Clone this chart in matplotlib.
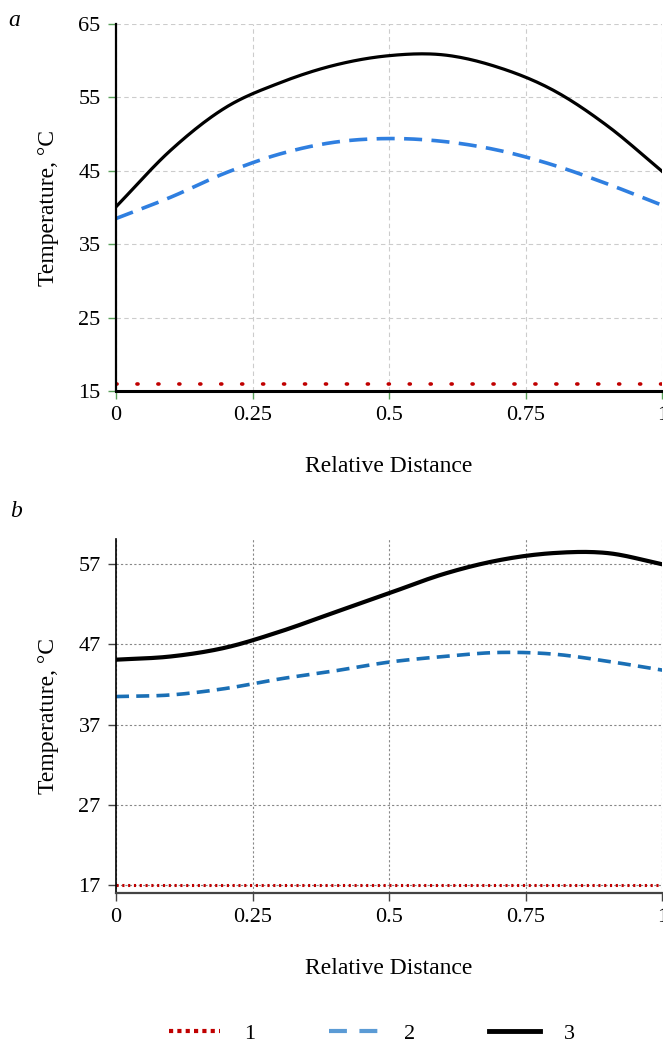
import matplotlib
matplotlib.use("Agg")
import numpy as np
import matplotlib.pyplot as plt
from matplotlib.lines import Line2D

plt.rcParams['font.family'] = ['Liberation Serif', 'DejaVu Serif']

# relative distance positions where the curves were read
xs = [0, 0.1, 0.2, 0.3, 0.4, 0.5, 0.6, 0.7, 0.8, 0.9, 1.0]

# panel a
a_line1 = [16.0] * len(xs)
a_line2 = [38.5, 41.4, 44.7, 47.3, 48.9, 49.4, 49.0, 47.8, 45.8, 43.2, 40.3]
a_line3 = [40.1, 47.8, 53.6, 57.0, 59.4, 60.7, 60.8, 59.1, 56.0, 51.1, 44.9]

# panel b
b_line1 = [17.0] * len(xs)
b_line2 = [40.5, 40.7, 41.5, 42.7, 43.7, 44.8, 45.5, 46.0, 45.8, 44.9, 43.8]
b_line3 = [45.1, 45.5, 46.6, 48.6, 51.0, 53.4, 55.8, 57.5, 58.4, 58.4, 57.0]

xticks = [0, 0.25, 0.5, 0.75, 1]
xticklabels = ['0', '0.25', '0.5', '0.75', '1']
a_yticks = [15, 25, 35, 45, 55, 65]
b_yticks = [17, 27, 37, 47, 57]
legend_labels = ['1', '2', '3']

red = '#c00000'
blue_a = '#2f7fe0'
blue_b = '#1a6fb5'


def smooth(x, y, n=20):
    # Catmull-Rom through the read points (uniform spacing)
    x = np.asarray(x, float)
    y = np.asarray(y, float)
    px = np.concatenate([[2 * x[0] - x[1]], x, [2 * x[-1] - x[-2]]])
    py = np.concatenate([[2 * y[0] - y[1]], y, [2 * y[-1] - y[-2]]])
    t = np.linspace(0, 1, n, endpoint=False)
    ox, oy = [], []
    for i in range(1, len(px) - 2):
        for arr, out in ((px, ox), (py, oy)):
            a0, a1, a2, a3 = arr[i - 1], arr[i], arr[i + 1], arr[i + 2]
            out.extend(0.5 * ((2 * a1) + (-a0 + a2) * t + (2 * a0 - 5 * a1 + 4 * a2 - a3) * t ** 2
                              + (-a0 + 3 * a1 - 3 * a2 + a3) * t ** 3))
    ox.append(x[-1])
    oy.append(y[-1])
    return ox, oy


def style_axes(ax, yticks, ylim, tick_color):
    ax.set_xlim(0, 1)
    ax.set_ylim(*ylim)
    ax.set_yticks(yticks)
    ax.set_xticks(xticks)
    ax.set_xticklabels(xticklabels)
    ax.tick_params(color=tick_color, length=6, width=1, labelsize=16, pad=5)
    ax.set_ylabel('Temperature, °C', fontsize=17, labelpad=14)
    ax.set_xlabel('Relative Distance', fontsize=17, labelpad=22)
    for s in ['top', 'right']:
        ax.spines[s].set_visible(False)


fig = plt.figure(figsize=(6.63, 10.48), dpi=100)
ax1 = fig.add_axes([0.175, 0.627, 0.824, 0.350])
ax2 = fig.add_axes([0.175, 0.148, 0.824, 0.338])

# panel a
ax1.plot(xs, a_line1, color=red, lw=2.6, linestyle=(0, (0.3, 5.5)), dash_capstyle='round')
ax1.plot(*smooth(xs, a_line2), color=blue_a, lw=2.6, linestyle=(0, (5, 2.6)))
ax1.plot(*smooth(xs, a_line3), color='black', lw=2.3)
ax1.grid(True, color='#cccccc', linestyle=(0, (4, 3)), lw=0.8)
style_axes(ax1, a_yticks, (15, 65), '#5aa05a')
ax1.spines['left'].set_linewidth(1.6)
ax1.spines['bottom'].set_linewidth(2.2)

# panel b
ax2.plot(xs, b_line1, color=red, lw=2.2, linestyle=(0, (0.7, 1.2)))
ax2.plot(*smooth(xs, b_line2), color=blue_b, lw=2.6, linestyle=(0, (3.6, 2.0)))
ax2.plot(*smooth(xs, b_line3), color='black', lw=3.0)
ax2.grid(True, color='#888888', linestyle=(0, (2, 2)), lw=0.8)
style_axes(ax2, b_yticks, (16, 60.2), '#444444')
ax2.spines['left'].set_linewidth(1.2)
ax2.spines['bottom'].set_linewidth(1.6)
ax2.spines['bottom'].set_color('#444444')

fig.text(0.012, 0.99, 'a', fontsize=17, style='italic', va='top')
fig.text(0.015, 0.522, 'b', fontsize=17, style='italic', va='top')

handles = [
    Line2D([], [], color=red, lw=3, linestyle=(0, (1, 1))),
    Line2D([], [], color='#5b9bd5', lw=3, linestyle=(0, (4.3, 3))),
    Line2D([], [], color='black', lw=3.5),
]
fig.legend(handles, legend_labels, loc='center', bbox_to_anchor=(0.561, 0.014),
           ncol=3, frameon=False, fontsize=16, handlelength=2.3, columnspacing=3.3,
           handletextpad=1.1)

fig.savefig('out.png', dpi=100)
